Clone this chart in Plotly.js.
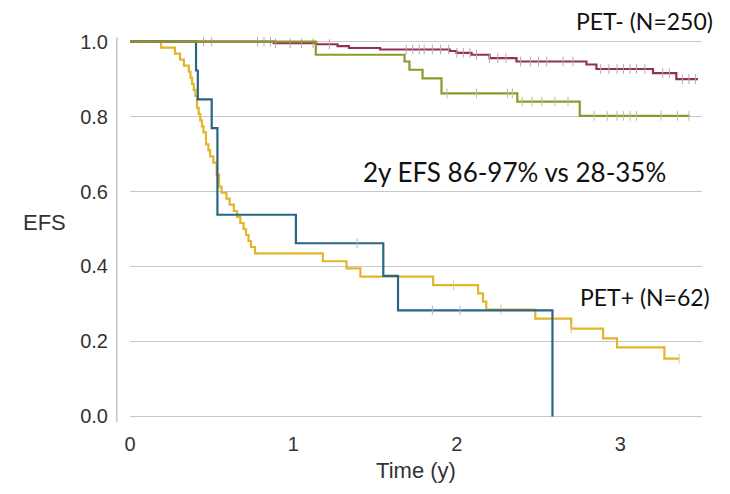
<!DOCTYPE html>
<html>
<head>
<meta charset="utf-8">
<script src="https://cdn.plot.ly/plotly-3.0.1.min.js"></script>
<style>html,body{margin:0;padding:0;background:#fff;}#chart{width:730px;height:494px;}</style>
</head>
<body>
<div id="chart"></div>
<script>
// ---- Data (time in years, event-free survival) ----
// PET- group, curve 1 (maroon)
var maroonT = [0, 0.88, 1.14, 1.27, 1.34, 1.53, 1.957, 1.998, 2.09, 2.2, 2.365, 2.793, 2.854, 3.2, 3.343, 3.475];
var maroonS = [1.0, 0.996, 0.993, 0.988, 0.983, 0.979, 0.975, 0.97, 0.965, 0.956, 0.947, 0.939, 0.927, 0.916, 0.9, 0.9];
var maroonCensor = [0.45, 0.5, 0.78, 0.82, 0.86, 0.89, 0.98, 1.05, 1.12, 1.22, 1.69, 1.73, 1.77, 1.8, 1.85, 1.9, 1.95,
  2.0, 2.04, 2.08, 2.12, 2.2, 2.25, 2.3, 2.39, 2.45, 2.5, 2.55, 2.65, 2.71, 2.88, 2.93, 2.98, 3.02, 3.06, 3.1, 3.15,
  3.26, 3.3, 3.38, 3.42, 3.46];

// PET- group, curve 2 (olive green)
var greenT = [0, 1.137, 1.68, 1.71, 1.79, 1.906, 2.37, 2.752, 3.425];
var greenS = [1.0, 0.965, 0.947, 0.925, 0.902, 0.862, 0.84, 0.802, 0.802];
var greenCensor = [1.94, 2.12, 2.31, 2.34, 2.4, 2.46, 2.52, 2.6, 2.68, 2.84, 2.92, 2.98, 3.02, 3.06, 3.1, 3.25, 3.35, 3.42];

// PET+ group, curve 1 (gold)
var goldT = [0, 0.19, 0.275, 0.306, 0.33, 0.36, 0.37, 0.38, 0.39, 0.40, 0.41, 0.42, 0.43, 0.44, 0.45, 0.465, 0.48,
  0.49, 0.51, 0.53, 0.545, 0.56, 0.59, 0.61, 0.635, 0.655, 0.675, 0.695, 0.71, 0.725, 0.74, 0.765, 1.18, 1.325,
  1.41, 1.855, 2.13, 2.16, 2.18, 2.48, 2.70, 2.895, 2.98, 3.27, 3.36];
var goldS = [1.0, 0.984, 0.968, 0.952, 0.936, 0.92, 0.904, 0.887, 0.871, 0.855, 0.823, 0.807, 0.79, 0.774, 0.758,
  0.726, 0.71, 0.694, 0.677, 0.645, 0.613, 0.597, 0.581, 0.565, 0.548, 0.532, 0.516, 0.5, 0.484, 0.468, 0.452,
  0.435, 0.414, 0.395, 0.373, 0.35, 0.328, 0.306, 0.285, 0.261, 0.234, 0.208, 0.184, 0.154, 0.154];
var goldCensor = [1.98, 2.27, 2.70, 3.36];

// PET+ group, curve 2 (blue)
var blueT = [0, 0.404, 0.415, 0.50, 0.535, 1.015, 1.55, 1.64, 2.585];
var blueS = [1.0, 0.923, 0.846, 0.769, 0.538, 0.462, 0.375, 0.283, 0.0];
var blueCensor = [1.39, 1.85, 2.02];

// Axis ticks and labels
var xTicks = [0, 1, 2, 3];
var yTicks = [0, 0.2, 0.4, 0.6, 0.8, 1.0];
var yTickText = ['0.0', '0.2', '0.4', '0.6', '0.8', '1.0'];
var labelTop = 'PET- (N=250)';
var labelMid = '2y EFS 86-97% vs 28-35%';
var labelBottom = 'PET+ (N=62)';
var xTitle = 'Time (y)';
var yTitle = 'EFS';

// value of a step curve at a given time
function stepAt(T, S, t) {
  var v = S[0];
  for (var i = 0; i < T.length; i++) { if (T[i] <= t) v = S[i]; }
  return v;
}
function censorY(T, S, C) { return C.map(function (t) { return stepAt(T, S, t); }); }

var curves = [
  {T: goldT, S: goldS, C: goldCensor, color: '#e2b52a', tick: '#dcc894'},
  {T: blueT, S: blueS, C: blueCensor, color: '#2a6585', tick: '#a9b6c0'},
  {T: maroonT, S: maroonS, C: maroonCensor, color: '#922f5b', tick: '#b9a9b1'},
  {T: greenT, S: greenS, C: greenCensor, color: '#8c9a2c', tick: '#bcc29a'}
];

var traces = [];
curves.forEach(function (c) {
  traces.push({
    x: c.T, y: c.S, type: 'scatter', mode: 'lines',
    line: {shape: 'hv', color: c.color, width: 2.2},
    hoverinfo: 'skip', showlegend: false
  });
  traces.push({
    x: c.C, y: censorY(c.T, c.S, c.C), type: 'scatter', mode: 'markers',
    marker: {symbol: 'line-ns-open', size: 7, color: c.tick, line: {color: c.tick, width: 1}},
    hoverinfo: 'skip', showlegend: false
  });
});

var axisFont = {family: 'Arial', size: 20, color: '#333333'};
var textFont = {family: 'Lato', color: '#111111'};

var layout = {
  width: 730, height: 494,
  margin: {l: 130, r: 28, t: 36, b: 72},
  paper_bgcolor: '#ffffff', plot_bgcolor: '#ffffff',
  xaxis: {
    range: [0, 3.5], tickvals: xTicks, showgrid: false, zeroline: false, showline: false,
    ticks: 'outside', ticklen: 4, tickcolor: 'rgba(0,0,0,0)',
    tickfont: axisFont,
    title: {text: xTitle, font: {family: 'Arial', size: 22, color: '#333333'}, standoff: 8}
  },
  yaxis: {
    range: [-0.015, 1.015], tickvals: yTicks, ticktext: yTickText,
    showgrid: true, gridcolor: '#c9c9c9', gridwidth: 1.5, zeroline: false, showline: false,
    ticks: 'outside', ticklen: 17, tickcolor: 'rgba(0,0,0,0)',
    tickfont: axisFont
  },
  shapes: [
    {type: 'line', xref: 'paper', yref: 'y', x0: -0.023, x1: -0.023, y0: -0.03, y1: 1.01,
     line: {color: '#c4c4c4', width: 1.5}}
  ],
  annotations: [
    {text: labelTop, xref: 'paper', yref: 'paper', x: 0.900, y: 1.04, xanchor: 'center', yanchor: 'middle',
     showarrow: false, font: {family: textFont.family, color: textFont.color, size: 23}},
    {text: labelMid, xref: 'paper', yref: 'paper', x: 0.673, y: 0.648, xanchor: 'center', yanchor: 'middle',
     showarrow: false, font: {family: textFont.family, color: textFont.color, size: 26}},
    {text: labelBottom, xref: 'paper', yref: 'paper', x: 0.900, y: 0.3235, xanchor: 'center', yanchor: 'middle',
     showarrow: false, font: {family: textFont.family, color: textFont.color, size: 23}},
    {text: yTitle, xref: 'paper', yref: 'paper', x: -0.15, y: 0.518, xanchor: 'center', yanchor: 'middle',
     showarrow: false, font: {family: 'Arial', size: 22, color: '#333333'}}
  ]
};

Plotly.newPlot('chart', traces, layout, {displayModeBar: false, staticPlot: true});
</script>
</body>
</html>
